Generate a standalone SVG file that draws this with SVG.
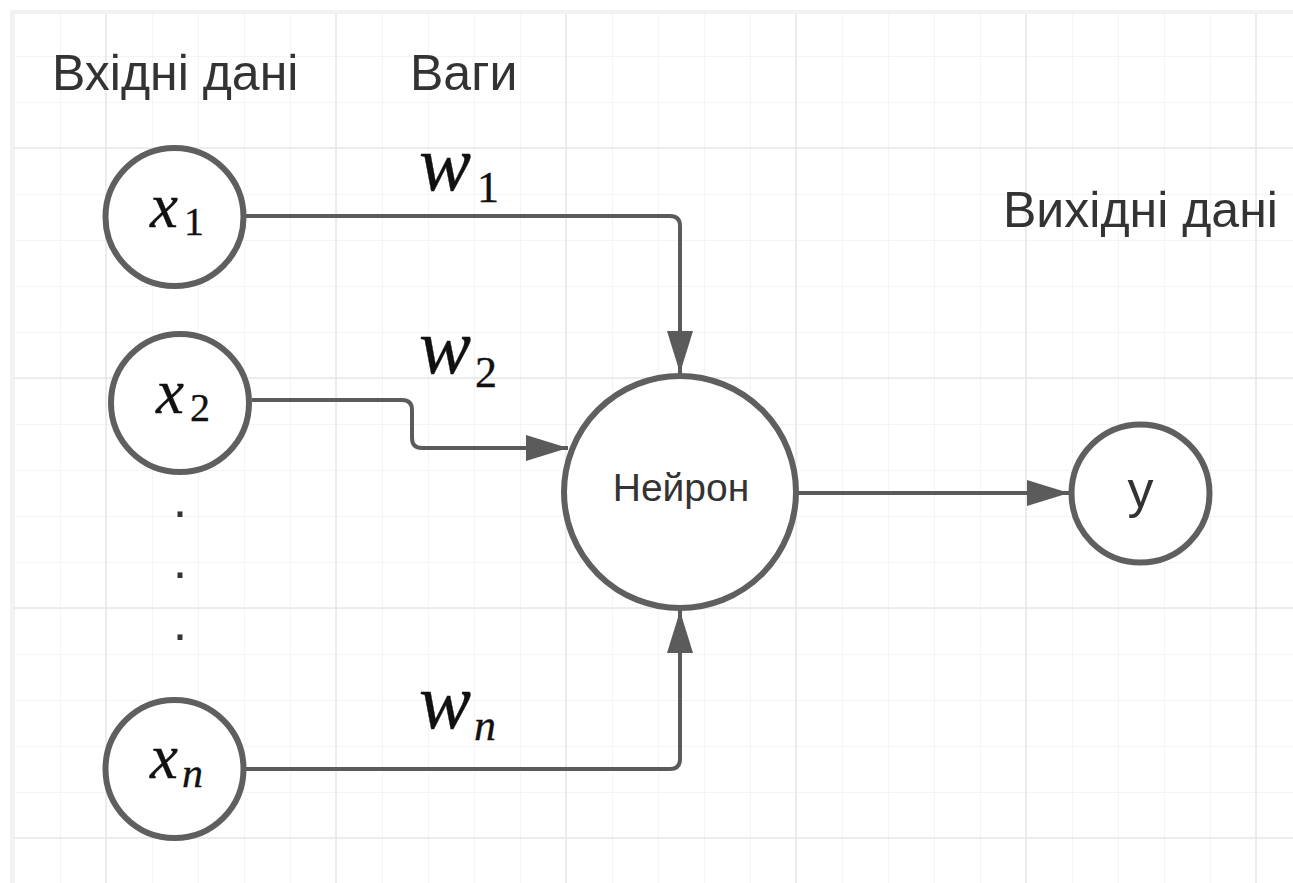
<svg xmlns="http://www.w3.org/2000/svg" width="1293" height="883" viewBox="0 0 1293 883">
  <defs>
    <pattern id="minor" patternUnits="userSpaceOnUse" x="14" y="10" width="46" height="46">
      <path d="M0,0 V46 M0,0 H46" fill="none" stroke="#f1f1f1" stroke-width="1.5"/>
    </pattern>
    <marker id="arr" markerUnits="userSpaceOnUse" markerWidth="44" markerHeight="28" refX="42" refY="13" orient="auto">
      <path d="M0,0 L42,13 L0,26 z" fill="#5b5b5b"/>
    </marker>
    <style>
      .node { fill: #ffffff; stroke: #5f5f5f; stroke-width: 6; }
      .conn { fill: none; stroke: #5b5b5b; stroke-width: 4; marker-end: url(#arr); }
      .lbl { font-family: "Liberation Sans", Arial, sans-serif; fill: #333333; }
      .math { font-family: "Liberation Serif", "Times New Roman", serif; fill: #111111; stroke: #111111; stroke-width: 0.35; }
      .dot { fill: #333333; }
      .major { stroke: #e7e7e7; stroke-width: 1.5; }
    </style>
  </defs>

  <rect x="0" y="0" width="1293" height="883" fill="#ffffff"/>
  <g id="grid">
    <rect x="14" y="10" width="1279" height="873" fill="url(#minor)"/>
    <path class="major" d="M106,10 V883 M336,10 V883 M566,10 V883 M796,10 V883 M1026,10 V883 M1256,10 V883 M14,148 H1293 M14,378 H1293 M14,608 H1293 M14,838 H1293"/>
    <rect x="10" y="10" width="1283" height="4" fill="#f0f3f2"/>
    <rect x="10" y="10" width="4" height="873" fill="#f0f3f2"/>
  </g>

  <g id="headers">
    <text class="lbl" x="52" y="90" font-size="50">Вхідні дані</text>
    <text class="lbl" x="410" y="90" font-size="50">Ваги</text>
    <text class="lbl" x="1003" y="227" font-size="50">Вихідні дані</text>
  </g>

  <g id="connectors">
    <path class="conn" d="M246,216 H670 Q680,216 680,226 V373"/>
    <path class="conn" d="M252,400 H402 Q412,400 412,410 V438 Q412,448 422,448 H568"/>
    <path class="conn" d="M246,769 H670 Q680,769 680,759 V611"/>
    <path class="conn" d="M798,493 H1069"/>
  </g>

  <g id="weights">
    <text class="math" x="419" y="190" font-size="78" font-style="italic">w</text>
    <text class="math" x="477" y="202" font-size="44">1</text>
    <text class="math" x="419" y="373" font-size="78" font-style="italic">w</text>
    <text class="math" x="475" y="387" font-size="44">2</text>
    <text class="math" x="419" y="728" font-size="78" font-style="italic">w</text>
    <text class="math" x="474" y="740" font-size="44" font-style="italic">n</text>
  </g>

  <g id="node-x1">
    <circle class="node" cx="174.5" cy="217" r="69"/>
    <text class="math" x="150" y="227" font-size="63" font-style="italic">x</text>
    <text class="math" x="184" y="235" font-size="40">1</text>
  </g>
  <g id="node-x2">
    <circle class="node" cx="180" cy="403" r="69"/>
    <text class="math" x="156" y="413" font-size="63" font-style="italic">x</text>
    <text class="math" x="190" y="421" font-size="40">2</text>
  </g>
  <g id="dots">
    <text class="lbl dot" x="180" y="517" font-size="52" text-anchor="middle">.</text>
    <text class="lbl dot" x="180" y="578" font-size="52" text-anchor="middle">.</text>
    <text class="lbl dot" x="180" y="640" font-size="52" text-anchor="middle">.</text>
  </g>
  <g id="node-xn">
    <circle class="node" cx="174.5" cy="769" r="69"/>
    <text class="math" x="150" y="778" font-size="63" font-style="italic">x</text>
    <text class="math" x="182" y="787" font-size="42" font-style="italic">n</text>
  </g>

  <g id="node-neuron">
    <circle class="node" cx="680" cy="492" r="116"/>
    <text class="lbl" x="681" y="501" font-size="39" text-anchor="middle">Нейрон</text>
  </g>

  <g id="node-y">
    <circle class="node" cx="1140.5" cy="493.5" r="69"/>
    <text class="lbl" x="1140.5" y="507" font-size="52" text-anchor="middle">y</text>
  </g>
</svg>
